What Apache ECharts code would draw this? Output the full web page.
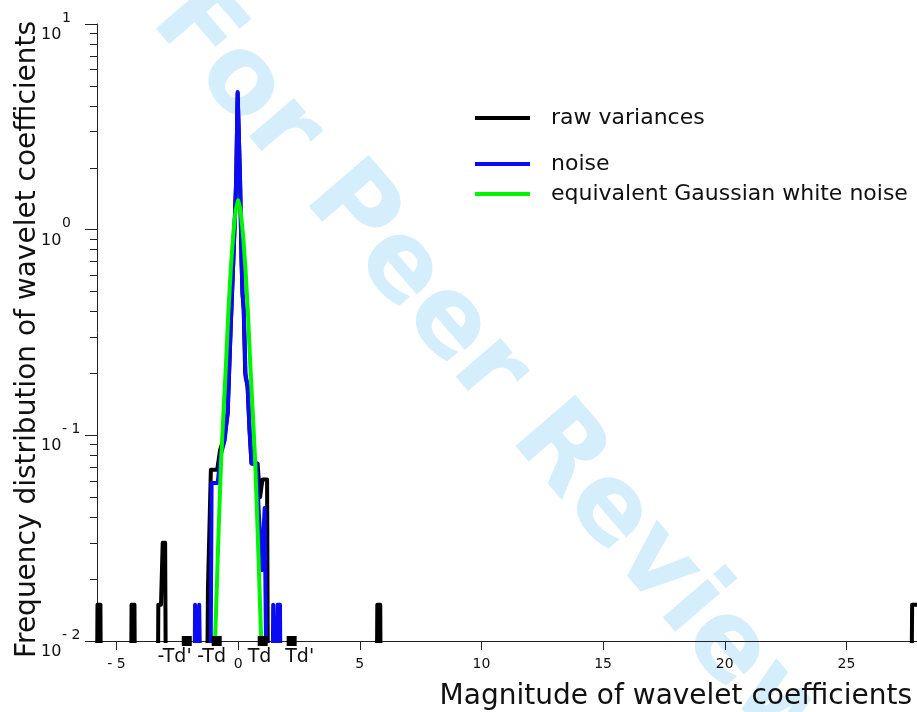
<!DOCTYPE html>
<html>
<head>
<meta charset="utf-8">
<script src="https://cdn.jsdelivr.net/npm/echarts@6/dist/echarts.min.js"></script>
<style>
html, body { margin: 0; padding: 0; background: #fff; }
#chart { width: 917px; height: 712px; }
</style>
</head>
<body>
<div id="chart"></div>
<script>
// [magnitude, frequency]; 0.001 = dropped below the axis
const rawVariances = [
    [-5.84, 0.001], [-5.78, 0.015], [-5.66, 0.015], [-5.6, 0.001],
    [-4.43, 0.001], [-4.38, 0.015], [-4.26, 0.015], [-4.21, 0.001],
    [-3.33, 0.001], [-3.28, 0.015], [-3.17, 0.015], [-3.1, 0.03], [-3.0, 0.03], [-2.94, 0.001],
    [-1.32, 0.001], [-1.24, 0.018], [-1.17, 0.018], [-1.12, 0.068], [-0.86, 0.068], [-0.74, 0.085],
    [-0.55, 0.1], [-0.43, 0.128], [-0.31, 0.325], [-0.18, 0.8], [-0.08, 1.74], [-0.02, 4.6],
    [0.04, 4.6], [0.08, 1.74], [0.14, 0.71], [0.18, 0.49], [0.23, 0.41], [0.29, 0.2], [0.33, 0.19],
    [0.39, 0.17], [0.47, 0.106], [0.55, 0.073], [0.8, 0.073], [0.9, 0.05], [1.0, 0.061], [1.19, 0.061],
    [1.25, 0.001],
    [5.66, 0.001], [5.72, 0.015], [5.84, 0.015], [5.9, 0.001],
    [27.62, 0.001], [27.7, 0.015], [27.95, 0.015]
]
const noise = [
    [-1.83, 0.001], [-1.77, 0.015], [-1.7, 0.015], [-1.65, 0.003], [-1.6, 0.015], [-1.52, 0.015], [-1.46, 0.001],
    [-1.17, 0.001], [-1.09, 0.0586], [-0.84, 0.0586], [-0.72, 0.08], [-0.55, 0.095], [-0.51, 0.106],
    [-0.43, 0.128], [-0.31, 0.325], [-0.18, 0.8], [-0.08, 1.74], [-0.02, 4.67], [0.04, 4.67], [0.08, 1.74],
    [0.14, 0.71], [0.18, 0.49], [0.23, 0.41], [0.31, 0.19], [0.39, 0.176], [0.47, 0.106], [0.55, 0.073],
    [0.76, 0.073], [0.84, 0.0443], [0.92, 0.0443], [0.97, 0.0221], [1.05, 0.0221], [1.09, 0.0443],
    [1.17, 0.0443], [1.23, 0.001],
    [1.38, 0.001], [1.44, 0.015], [1.52, 0.015], [1.57, 0.003], [1.62, 0.015], [1.72, 0.015], [1.78, 0.001]
]
const gaussian = [
    [-0.96, 0.009], [-0.9, 0.015], [-0.8, 0.035], [-0.7, 0.075], [-0.6, 0.13], [-0.5, 0.22], [-0.4, 0.4],
    [-0.3, 0.65], [-0.2, 0.95], [-0.1, 1.25], [0, 1.39], [0.1, 1.25], [0.2, 0.95], [0.3, 0.65], [0.4, 0.4],
    [0.5, 0.22], [0.6, 0.13], [0.7, 0.075], [0.8, 0.035], [0.9, 0.015], [0.96, 0.009]
]
const thresholds = [-2.11, -0.88, 1.01, 2.20]
const thresholdLabelPos = [-2.61, -1.09, 0.88, 2.53]
const thresholdLabels = ["-Td'", '-Td', 'Td', "Td'"]
const xTicks = [-5, 0, 5, 10, 15, 20, 25]
const yMajor = [0.01, 0.1, 1, 10]
const yMinor = [0.02, 0.03, 0.04, 0.05, 0.06, 0.07, 0.08, 0.09,
    0.2, 0.3, 0.4, 0.5, 0.6, 0.7, 0.8, 0.9,
    2, 3, 4, 5, 6, 7, 8, 9]

const font = '"DejaVu Sans", sans-serif'
const axisColor = '#222'

let chart = echarts.init(document.getElementById('chart'))

const legendAt = (name, top) => ({
    data: [name],
    left: 475,
    top: top,
    padding: 0,
    icon: 'rect',
    itemWidth: 55,
    itemHeight: 4,
    textStyle: { fontFamily: font, fontSize: 22, color: '#111', padding: [0, 0, 0, 16] }
})

const lineSeries = (name, data, color) => ({
    name: name,
    type: 'line',
    data: data,
    symbol: 'none',
    clip: true,
    lineStyle: { color: color, width: 4, join: 'round', cap: 'round' },
    itemStyle: { color: color }
})

chart.setOption({
    animation: false,
    backgroundColor: '#fff',
    grid: { left: 97, right: 0, top: 24, bottom: 71, containLabel: false, outerBoundsMode: 'none' },
    graphic: [{
        type: 'text',
        x: 493,
        y: 377,
        rotation: -0.86,
        z: -10,
        silent: true,
        style: {
            text: 'For Peer Review',
            font: 'bold 108px ' + font,
            fill: '#d5eefb',
            align: 'center',
            verticalAlign: 'middle'
        }
    }],
    legend: [
        legendAt('raw variances', 107),
        legendAt('noise', 153),
        legendAt('equivalent Gaussian white noise', 183)
    ],
    xAxis: [{
        type: 'value',
        min: -5.8,
        max: 27.9,
        position: 'bottom',
        name: 'Magnitude of wavelet coefficients',
        nameLocation: 'end',
        nameGap: -5,
        nameMoveOverlap: false,
        nameTextStyle: {
            fontFamily: font, fontSize: 28, color: '#111',
            align: 'right', verticalAlign: 'top', padding: [42, 0, 0, 0]
        },
        axisLine: { onZero: false, lineStyle: { color: axisColor, width: 1 } },
        axisTick: { show: true, length: 9, customValues: xTicks, lineStyle: { color: axisColor } },
        axisLabel: {
            customValues: xTicks,
            margin: 16,
            fontFamily: font,
            fontSize: 14,
            color: '#111',
            formatter: v => v < 0 ? '- ' + (-v) : String(v)
        },
        splitLine: { show: false }
    }, {
        type: 'value',
        min: -5.8,
        max: 27.9,
        position: 'bottom',
        axisLine: { show: false, onZero: false },
        axisTick: { show: false },
        axisLabel: {
            customValues: thresholdLabelPos,
            margin: 7,
            fontFamily: font,
            fontSize: 19,
            color: '#111',
            formatter: v => thresholdLabels[thresholdLabelPos.indexOf(v)]
        },
        splitLine: { show: false }
    }],
    yAxis: [{
        type: 'log',
        logBase: 10,
        min: 0.01,
        max: 10,
        position: 'left',
        name: 'Frequency distribution of wavelet coefficients',
        nameLocation: 'middle',
        nameGap: 55,
        nameMoveOverlap: false,
        nameTextStyle: { fontFamily: font, fontSize: 28, color: '#111', padding: [0, 14, 0, 0] },
        axisLine: { show: true, onZero: false, lineStyle: { color: axisColor, width: 1 } },
        axisTick: { show: true, length: 12, customValues: yMajor, lineStyle: { color: axisColor } },
        axisLabel: {
            customValues: yMajor,
            align: 'left',
            margin: 56,
            verticalAlign: 'middle',
            padding: [6, 0, 0, 0],
            color: '#111',
            formatter: v => {
                let e = Math.round(Math.log10(v))
                return '{e|' + (e < 0 ? '- ' + (-e) : String(e)) + '}\n{b|10}'
            },
            rich: {
                e: { fontFamily: font, fontSize: 14, lineHeight: 16, padding: [0, 0, 0, 21], color: '#111' },
                b: { fontFamily: font, fontSize: 16, lineHeight: 18, color: '#111' }
            }
        },
        splitLine: { show: false }
    }, {
        type: 'log',
        logBase: 10,
        min: 0.01,
        max: 10,
        position: 'left',
        offset: 0,
        axisLine: { show: false, onZero: false },
        axisTick: { show: true, length: 7, customValues: yMinor, lineStyle: { color: axisColor } },
        axisLabel: { show: false },
        splitLine: { show: false }
    }],
    series: [
        lineSeries('raw variances', rawVariances, '#000000'),
        lineSeries('noise', noise, '#0a0af5'),
        lineSeries('equivalent Gaussian white noise', gaussian, '#00f500'),
        {
            name: 'thresholds',
            type: 'scatter',
            symbol: 'rect',
            symbolSize: 10,
            clip: false,
            itemStyle: { color: '#000', opacity: 1 },
            data: thresholds.map(x => [x, 0.01]),
            z: 5
        }
    ]
})

window.onresize = function () {
    chart.resize()
}
</script>
</body>
</html>
